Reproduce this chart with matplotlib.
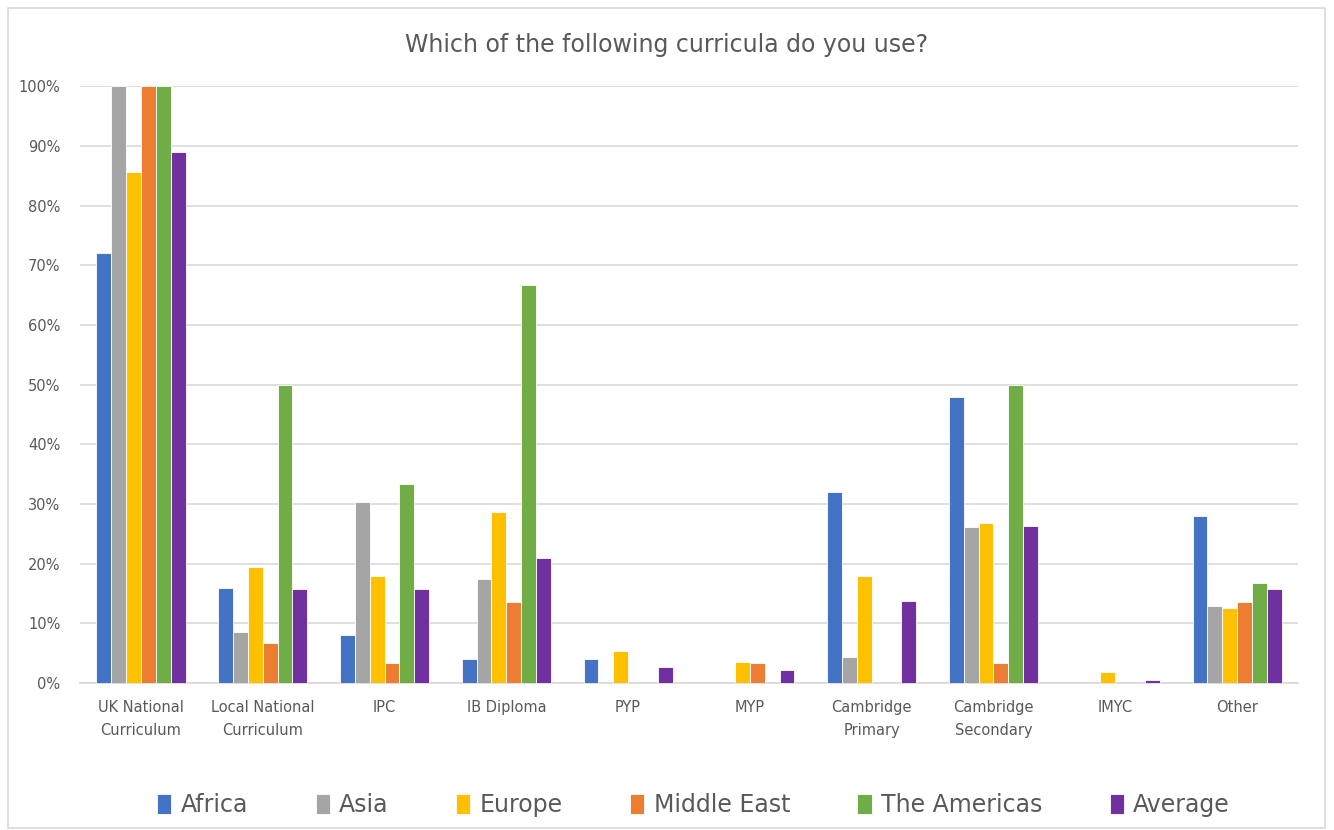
import numpy as np
import matplotlib.pyplot as plt
from matplotlib.patches import Rectangle
from matplotlib.ticker import PercentFormatter

categories = ["UK National\nCurriculum", "Local National\nCurriculum", "IPC", "IB Diploma",
              "PYP", "MYP", "Cambridge\nPrimary", "Cambridge\nSecondary", "IMYC", "Other"]

africa = [72, 16, 8, 4, 4, 0, 32, 48, 0, 28]
asia = [100, 8.5, 30.4, 17.4, 0, 0, 4.3, 26.1, 0, 13]
europe = [85.7, 19.5, 17.9, 28.6, 5.4, 3.6, 17.9, 26.8, 1.8, 12.5]
middle_east = [100, 6.7, 3.3, 13.6, 0, 3.3, 0, 3.3, 0, 13.6]
americas = [100, 50, 33.3, 66.7, 0, 0, 0, 50, 0, 16.7]
average = [89, 15.8, 15.8, 20.9, 2.7, 2.2, 13.7, 26.4, 0.5, 15.8]

series_names = ["Africa", "Asia", "Europe", "Middle East", "The Americas", "Average"]
series = [africa, asia, europe, middle_east, americas, average]
colors = ["#4472C4", "#A5A5A5", "#FFC000", "#ED7D31", "#70AD47", "#7030A0"]

fig = plt.figure(figsize=(13.34, 8.3), dpi=100)
ax = fig.add_axes([0.06, 0.177, 0.913, 0.719])

# chart border like the Excel frame
fig.patches.append(Rectangle((8 / 1334, 2 / 830), 1317 / 1334, 820 / 830,
                             transform=fig.transFigure, fill=False,
                             edgecolor="#D9D9D9", linewidth=1.2))

x = np.arange(len(categories))
w = 0.122
for i, (name, vals, c) in enumerate(zip(series_names, series, colors)):
    ax.bar(x + (i - 2.5) * w, vals, w, color=c, label=name,
           edgecolor="white", linewidth=0.6, zorder=3)

ax.set_xlim(-0.5, len(categories) - 0.5)
ax.set_ylim(0, 100)
ax.set_yticks(np.arange(0, 101, 10))
ax.yaxis.set_major_formatter(PercentFormatter(decimals=0))
ax.set_xticks(x)
ax.set_xticklabels(categories, fontsize=10.5, color="#595959", linespacing=1.7)
ax.tick_params(axis="y", labelsize=10.5, labelcolor="#595959", length=0, pad=14)
ax.tick_params(axis="x", length=0, pad=12)
ax.grid(axis="y", color="#D9D9D9", linewidth=1.2, zorder=0)
for s in ["top", "right", "left"]:
    ax.spines[s].set_visible(False)
ax.spines["bottom"].set_color("#D9D9D9")
ax.spines["bottom"].set_linewidth(1.2)

fig.text(0.5, 0.946, "Which of the following curricula do you use?", ha="center",
         va="center", fontsize=17, color="#595959")

fig.legend(loc="center", bbox_to_anchor=(0.52, 0.03), ncol=6, frameon=False,
           fontsize=17, handlelength=0.6, handleheight=0.9, columnspacing=2.85,
           handletextpad=0.4, labelcolor="#595959")

fig.savefig("out.png", dpi=100)
